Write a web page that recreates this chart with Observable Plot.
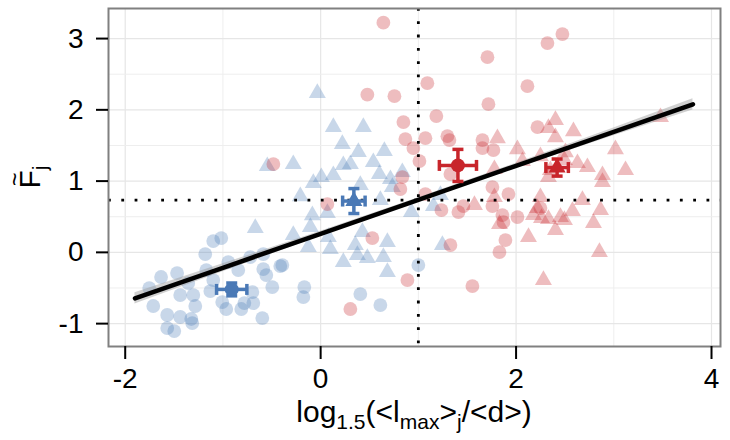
<!DOCTYPE html>
<html>
<head>
<meta charset="utf-8">
<script src="https://cdn.jsdelivr.net/npm/d3@7"></script>
<script src="https://cdn.jsdelivr.net/npm/@observablehq/plot@0.6"></script>
<style>
  html, body { margin: 0; padding: 0; background: white; }
</style>
</head>
<body>
<div id="chart"></div>
<script>
// ---------- data ----------
const blueCircleX = [-1.099,-1.017,-1.181,-1.633,-1.469,-1.754,-1.713,-1.570,-1.437,-1.570,-1.498,-1.314,-1.324,-1.283,-1.303,-1.437,-1.355,-1.170,-1.129,-1.099,-0.945,-0.843,-1.007,-0.966,-0.812,-0.781,-0.699,-0.689,-0.587,-0.556,-0.413,-0.495,-0.597,-0.167,-0.177,-0.392,0.406,0.611,1.000,-0.720,-0.587];
const blueCircleY = [0.158,0.200,-0.024,-0.346,-0.290,-0.501,-0.753,-0.879,-0.907,-1.062,-1.104,-0.992,-0.935,-0.753,-0.599,-0.599,-0.431,-0.249,-0.543,-0.389,-0.136,-0.249,-0.697,-0.795,-0.795,-0.711,-0.557,-0.711,-0.235,-0.319,-0.192,-0.487,-0.922,-0.487,-0.627,-0.178,-0.585,-0.739,-0.178,-0.066,-0.024];

const blueTriX = [-0.034,0.130,0.437,0.222,0.386,0.652,-0.546,-0.280,0.232,0.304,0.539,0.007,0.130,-0.075,0.601,0.714,0.836,0.406,-0.208,-0.085,0.069,-0.105,-0.280,0.079,0.099,0.355,0.427,0.683,0.478,0.232,0.376,0.642,0.683,0.929,1.154,1.226,1.246,-0.669,0.611,0.734,-0.126];
const blueTriY = [2.235,1.758,1.758,1.519,1.407,1.421,1.209,1.237,1.223,1.237,1.265,1.055,1.083,0.971,1.097,1.027,1.125,0.943,0.787,0.521,0.550,0.354,0.243,0.215,0.046,0.102,0.285,0.144,-0.080,-0.136,-0.038,-0.066,-0.276,0.565,0.649,0.804,0.102,0.341,0.733,0.916,0.074];

const redCircleX = [0.642,0.478,0.755,0.847,0.867,0.949,1.011,-0.484,0.836,0.816,2.474,2.321,1.707,1.092,2.116,1.717,1.184,1.072,1.297,1.318,1.656,1.656,1.768,1.328,1.758,1.922,1.461,1.410,1.236,1.758,1.860,1.871,2.014,1.891,1.830,1.328,1.553,2.219,2.249,0.888,1.072,0.069,0.529,0.304];
const redCircleY = [3.223,2.213,2.192,1.828,1.589,1.463,1.281,1.239,1.056,0.888,3.063,2.937,2.739,2.374,2.332,2.080,1.912,1.603,1.631,1.575,1.575,1.463,1.435,1.098,0.916,0.818,0.649,0.565,0.593,0.649,0.523,0.425,0.495,0.173,0.004,0.102,-0.473,1.757,0.621,-0.389,0.818,0.677,0.200,-0.795];

const redTriX = [2.403,2.331,2.587,2.403,1.809,2.014,2.065,2.249,2.505,2.495,2.628,3.017,2.730,1.778,2.351,2.331,2.884,2.884,3.120,1.778,2.249,2.178,2.260,2.331,2.454,2.679,2.792,1.574,2.219,2.577,2.864,2.495,1.830,2.403,2.127,2.853,2.280,3.478];
const redTriY = [1.855,1.743,1.699,1.615,1.601,1.447,1.279,1.349,1.405,1.293,1.251,1.447,1.195,1.167,1.153,1.055,1.083,0.985,1.153,0.774,0.774,0.522,0.480,0.466,0.494,0.733,0.410,0.663,0.620,0.579,0.593,0.453,0.397,0.313,0.215,0.004,-0.389,1.897];

// group means with error bars
const meanX     = [-0.91, 0.34, 1.405, 2.42];
const meanY     = [-0.52, 0.72, 1.22, 1.19];
const meanXErr  = [0.155, 0.115, 0.19, 0.115];
const meanYErr  = [0.09, 0.175, 0.225, 0.12];
const meanGroup = ["blue", "blue", "red", "red"];
const meanShape = ["circle", "triangle", "circle", "triangle"];

// fitted regression line and its confidence half-width
const fitX  = [-1.9, -1, 0, 1, 2, 3, 3.81];
const fitY  = [-0.645, -0.216, 0.261, 0.737, 1.214, 1.691, 2.077];
const fitSE = [0.08, 0.055, 0.035, 0.028, 0.035, 0.055, 0.08];

// dotted reference lines
const refLineX = [1];
const refLineY = [0.733];

// ticks
const xTicks = [-2, 0, 2, 4];
const xMinor = [-1, 1, 3];
const yTicks = [-1, 0, 1, 2, 3];
const yMinor = [-0.5, 0.5, 1.5, 2.5];

// ---------- styles ----------
const FONT = "'Liberation Sans', Arial, Helvetica, sans-serif";
const COL = {blue: "#4A79B6", red: "#C8252B"};
const PT_OPACITY = 0.3;
const fmt = d => String(d);

// ---------- tables ----------
const pts = (xs, ys) => xs.map((x, i) => ({x, y: ys[i]}));
const blueC = pts(blueCircleX, blueCircleY);
const blueT = pts(blueTriX, blueTriY);
const redC = pts(redCircleX, redCircleY);
const redT = pts(redTriX, redTriY);
const fit = fitX.map((x, i) => ({x, y: fitY[i], lo: fitY[i] - fitSE[i], hi: fitY[i] + fitSE[i]}));
const means = meanX.map((x, i) => ({x, y: meanY[i], xe: meanXErr[i], ye: meanYErr[i], g: meanGroup[i], s: meanShape[i]}));
const hCapPts = means.flatMap(d => [{x: d.x, y: d.y - d.ye, g: d.g}, {x: d.x, y: d.y + d.ye, g: d.g}]);
const vCapPts = means.flatMap(d => [{x: d.x - d.xe, y: d.y, g: d.g}, {x: d.x + d.xe, y: d.y, g: d.g}]);

const hcap = {draw(ctx, size) { const r = Math.sqrt(size / Math.PI); ctx.moveTo(-r, 0); ctx.lineTo(r, 0); }};
const vcap = {draw(ctx, size) { const r = Math.sqrt(size / Math.PI); ctx.moveTo(0, -r); ctx.lineTo(0, r); }};

const marks = [
  Plot.gridX(xTicks, {stroke: "#e6e6e6", strokeOpacity: 1, strokeWidth: 1.2}),
  Plot.gridX(xMinor, {stroke: "#eeeeee", strokeOpacity: 1, strokeWidth: 1}),
  Plot.gridY(yTicks, {stroke: "#e6e6e6", strokeOpacity: 1, strokeWidth: 1.2}),
  Plot.gridY(yMinor, {stroke: "#eeeeee", strokeOpacity: 1, strokeWidth: 1}),
  Plot.dot(blueC, {x: "x", y: "y", r: 6.9, symbol: "circle", fill: COL.blue, fillOpacity: PT_OPACITY, stroke: "none"}),
  Plot.dot(blueT, {x: "x", y: "y", r: 6.3, symbol: "triangle", fill: COL.blue, fillOpacity: PT_OPACITY, stroke: "none"}),
  Plot.dot(redC, {x: "x", y: "y", r: 6.9, symbol: "circle", fill: COL.red, fillOpacity: PT_OPACITY, stroke: "none"}),
  Plot.dot(redT, {x: "x", y: "y", r: 6.3, symbol: "triangle", fill: COL.red, fillOpacity: PT_OPACITY, stroke: "none"}),
  Plot.areaY(fit, {x: "x", y1: "lo", y2: "hi", fill: "#999999", fillOpacity: 0.45}),
  Plot.ruleX(refLineX, {stroke: "black", strokeWidth: 2.8, strokeDasharray: "2.8 10.5"}),
  Plot.ruleY(refLineY, {stroke: "black", strokeWidth: 2.8, strokeDasharray: "2.8 10.5"}),
  Plot.line(fit, {x: "x", y: "y", stroke: "black", strokeWidth: 4.5}),
];
for (const g of ["blue", "red"]) {
  const m = means.filter(d => d.g === g);
  marks.push(
    Plot.ruleY(m, {y: "y", x1: d => d.x - d.xe, x2: d => d.x + d.xe, stroke: COL[g], strokeWidth: 3.5}),
    Plot.ruleX(m, {x: "x", y1: d => d.y - d.ye, y2: d => d.y + d.ye, stroke: COL[g], strokeWidth: 3.5}),
    Plot.dot(hCapPts.filter(d => d.g === g), {x: "x", y: "y", r: 5.5, symbol: hcap, fill: "none", stroke: COL[g], strokeWidth: 3.5}),
    Plot.dot(vCapPts.filter(d => d.g === g), {x: "x", y: "y", r: 5.5, symbol: vcap, fill: "none", stroke: COL[g], strokeWidth: 3.5}),
    Plot.dot(m.filter(d => d.s === "circle"), {x: "x", y: "y", r: 7, symbol: "circle", fill: COL[g], stroke: "none"}),
    Plot.dot(m.filter(d => d.s === "triangle"), {x: "x", y: "y", r: 6.3, symbol: "triangle", fill: COL[g], stroke: "none"})
  );
}
marks.push(
  Plot.frame({stroke: "#808080", strokeWidth: 2}),
  Plot.axisX(xTicks, {tickSize: 13, tickPadding: 9, fontSize: 28, strokeWidth: 2, tickFormat: fmt, label: null}),
  Plot.axisY(yTicks, {tickSize: 12, tickPadding: 13, fontSize: 28, strokeWidth: 2, tickFormat: fmt, label: null})
);

const chart = Plot.plot({
  width: 730,
  height: 440,
  marginLeft: 108,
  marginRight: 10,
  marginTop: 8,
  marginBottom: 94,
  style: {fontFamily: FONT, background: "white", color: "black"},
  x: {domain: [-2.171, 4.092], label: null},
  y: {domain: [-1.321, 3.422], label: null},
  marks
});
document.getElementById("chart").appendChild(chart);

// ---------- axis titles with subscripts ----------
const svg = d3.select(chart);
const [xr0, xr1] = chart.scale("x").range;
const [yr0, yr1] = chart.scale("y").range;
const xt = svg.append("text")
  .attr("x", (xr0 + xr1) / 2).attr("y", 422)
  .attr("text-anchor", "middle")
  .attr("fill", "black")
  .style("font-family", FONT).style("font-size", "30px");
const SUB = 7;
xt.append("tspan").text("log");
xt.append("tspan").attr("dy", SUB).style("font-size", "21px").text("1.5");
xt.append("tspan").attr("dy", -SUB).text("(<l");
xt.append("tspan").attr("dy", SUB).style("font-size", "21px").text("max");
xt.append("tspan").attr("dy", -SUB).text(">");
xt.append("tspan").attr("dy", SUB).style("font-size", "21px").text("j");
xt.append("tspan").attr("dy", -SUB).text("/<d>)");

const yt = svg.append("text")
  .attr("transform", `translate(40,${(yr0 + yr1) / 2}) rotate(-90)`)
  .attr("text-anchor", "middle")
  .attr("fill", "black")
  .style("font-family", FONT).style("font-size", "30px");
yt.append("tspan").text("F");
yt.append("tspan").attr("dx", -16).attr("dy", -17).style("font-size", "23px").text("~");
yt.append("tspan").attr("dx", 2.4).attr("dy", 17 + SUB).style("font-size", "21px").text("j");
</script>
</body>
</html>
